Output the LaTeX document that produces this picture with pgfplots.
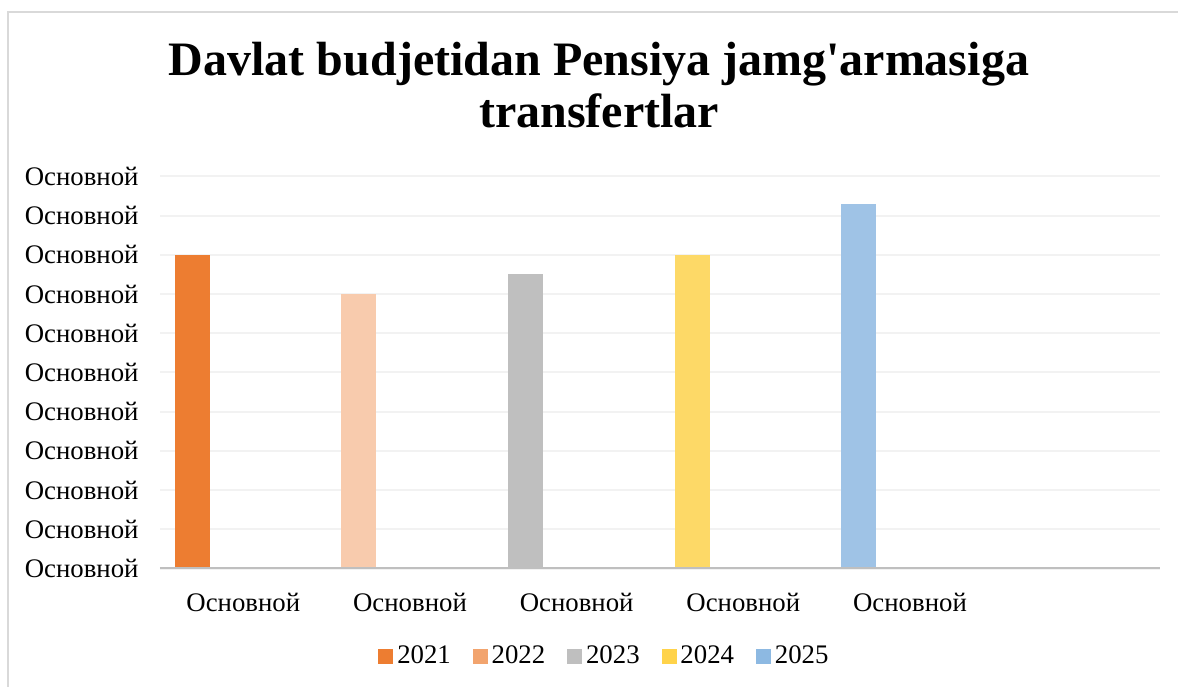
\documentclass[border=0pt]{standalone}
\usepackage{fontspec}
\setmainfont{Liberation Serif}
\usepackage{pgfplots}
\pgfplotsset{compat=1.18}
\definecolor{c2021}{HTML}{ED7D31}
\definecolor{c2022}{HTML}{F8CBAD}
\definecolor{c2022l}{HTML}{F2A46E}
\definecolor{c2023}{HTML}{BFBFBF}
\definecolor{c2024}{HTML}{FDD967}
\definecolor{c2024l}{HTML}{FFD34A}
\definecolor{c2025}{HTML}{9FC3E6}
\definecolor{c2025l}{HTML}{8DB9E2}
\definecolor{gridc}{HTML}{F2F2F2}
\definecolor{axisc}{HTML}{BFBFBF}
\definecolor{borderc}{HTML}{D9D9D9}
\begin{document}
\begin{tikzpicture}[x=1pt,y=1pt]
\useasboundingbox (0,0) rectangle (589,343);
\draw[borderc, line width=1pt] (4,-2) -- (4,337) -- (592,337);
\node[font=\fontsize{24}{28}\selectfont\bfseries, anchor=base] at (299.5,305) {Davlat budjetidan Pensiya jamg\textquotesingle armasiga};
\node[font=\fontsize{24}{28}\selectfont\bfseries, anchor=base] at (299.5,279) {transfertlar};
\begin{axis}[
  at={(80pt,58.75pt)}, anchor=south west,
  scale only axis, width=500pt, height=196pt,
  xmin=-0.5, xmax=5.5, ymin=0, ymax=10,
  axis line style={draw=none},
  major tick length=0pt,
  ytick={0,1,...,10},
  yticklabels={Основной,Основной,Основной,Основной,Основной,Основной,Основной,Основной,Основной,Основной,Основной},
  xtick={0,1,2,3,4},
  xticklabels={Основной,Основной,Основной,Основной,Основной},
  tick label style={font=\fontsize{13.4}{15}\selectfont},
  yticklabel style={xshift=-7.2pt},
  xticklabel style={yshift=-8.8pt},
  ymajorgrids, grid style={gridc, line width=1pt},
  ybar, bar width=0.21,
  legend columns=5,
  legend style={at={(0.4455,-0.223)}, anchor=center, draw=none, fill=none,
    font=\fontsize{13.4}{15}\selectfont,
    /tikz/every even column/.append style={column sep=9pt}},
]
\addplot[forget plot, fill=c2021, draw=none, bar shift=0pt] coordinates {(-0.307,8)};
\addplot[forget plot, fill=c2022, draw=none, bar shift=0pt] coordinates {(0.693,7)};
\addplot[forget plot, fill=c2023, draw=none, bar shift=0pt] coordinates {(1.693,7.5)};
\addplot[forget plot, fill=c2024, draw=none, bar shift=0pt] coordinates {(2.693,8)};
\addplot[forget plot, fill=c2025, draw=none, bar shift=0pt] coordinates {(3.693,9.3)};
\draw[axisc, line width=1.5pt] (rel axis cs:0,0) -- (rel axis cs:1,0);
\addlegendimage{legend image code/.code={\fill[c2021] (0pt,-3.5pt) rectangle (7pt,3.5pt);}}
\addlegendentry{2021}
\addlegendimage{legend image code/.code={\fill[c2022l] (0pt,-3.5pt) rectangle (7pt,3.5pt);}}
\addlegendentry{2022}
\addlegendimage{legend image code/.code={\fill[c2023] (0pt,-3.5pt) rectangle (7pt,3.5pt);}}
\addlegendentry{2023}
\addlegendimage{legend image code/.code={\fill[c2024l] (0pt,-3.5pt) rectangle (7pt,3.5pt);}}
\addlegendentry{2024}
\addlegendimage{legend image code/.code={\fill[c2025l] (0pt,-3.5pt) rectangle (7pt,3.5pt);}}
\addlegendentry{2025}
\end{axis}
\end{tikzpicture}
\end{document}
